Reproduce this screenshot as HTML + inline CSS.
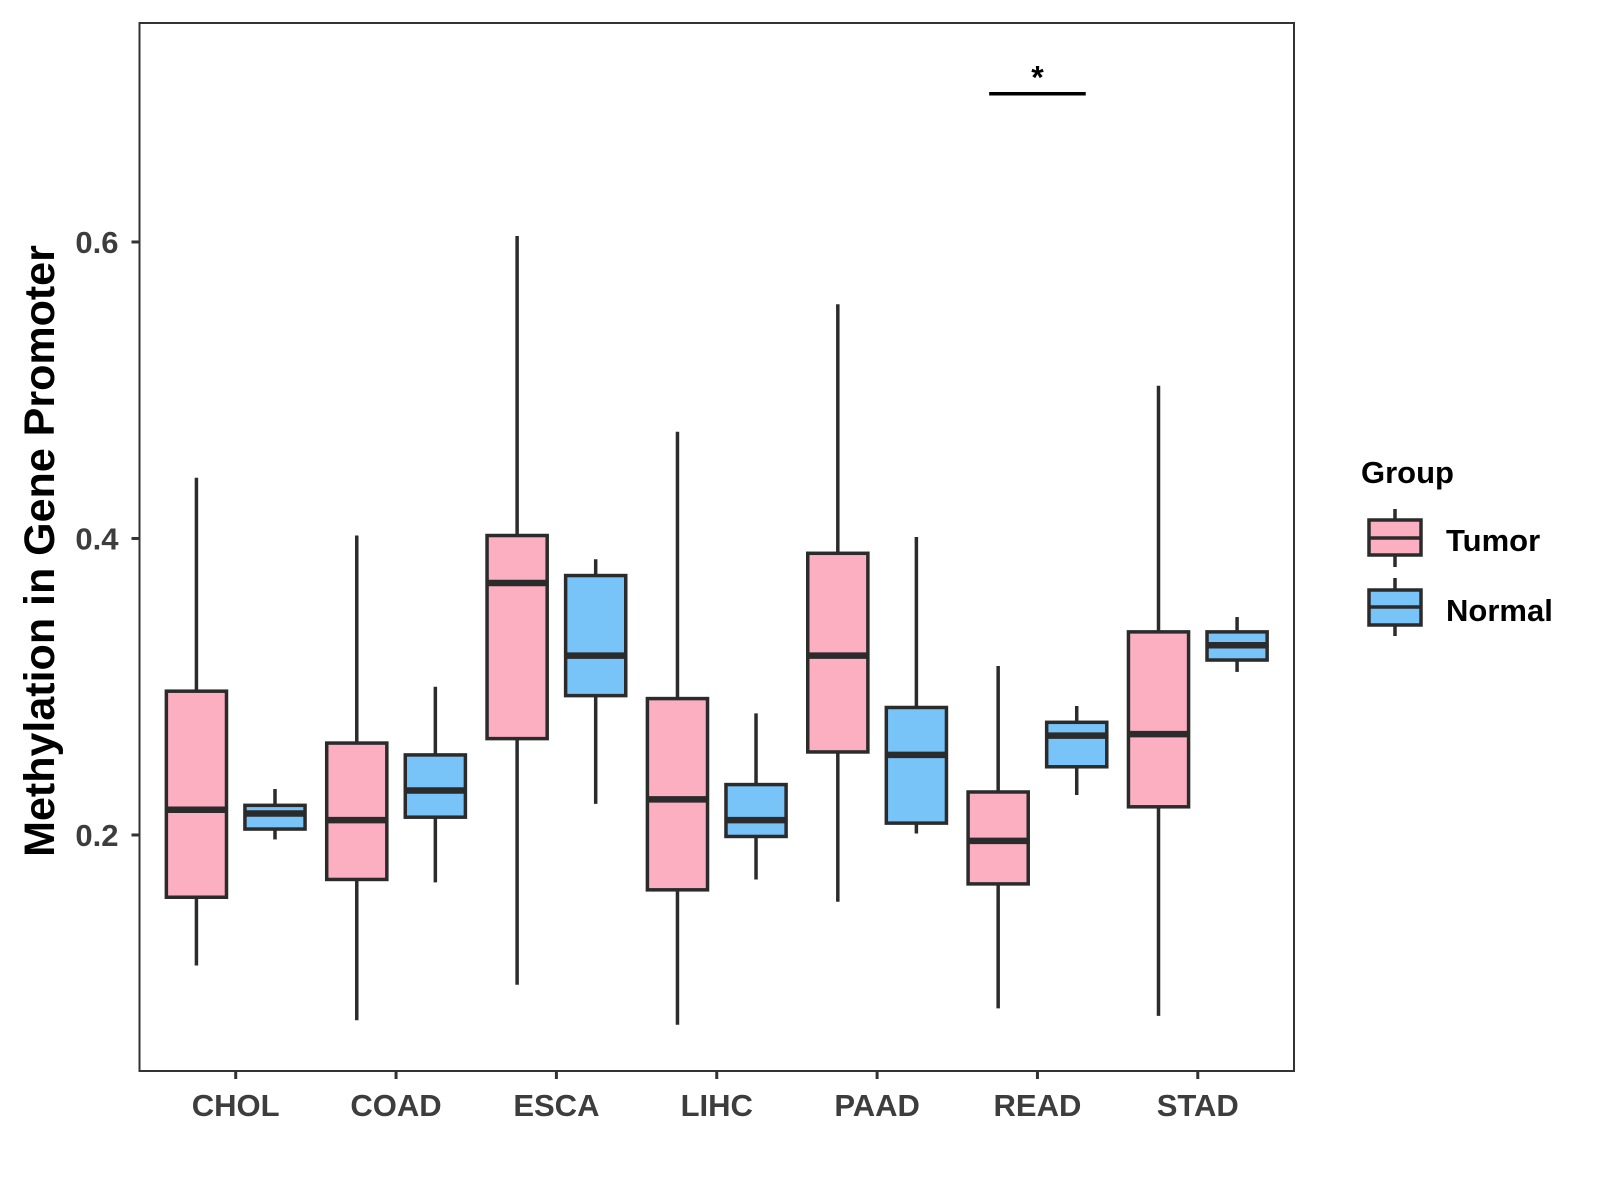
<!DOCTYPE html>
<html><head><meta charset="utf-8"><style>
body{margin:0;background:#fff;}
svg{display:block;font-family:"Liberation Sans",Arial,sans-serif;font-weight:bold;}
</style></head><body>
<svg id="chart" width="1600" height="1200" viewBox="0 0 1600 1200" xmlns="http://www.w3.org/2000/svg">
<rect width="1600" height="1200" fill="#fff"/>
<g id="plot"></g>
<text transform="translate(54,551) rotate(-90)" text-anchor="middle" font-size="43" fill="#000">Methylation in Gene Promoter</text>
<g>
<text x="1361" y="483" font-size="31" fill="#000">Group</text>
<g>
<line x1="1395" y1="509" x2="1395" y2="567" stroke="#2b2b2b" stroke-width="3.5"/>
<rect x="1369" y="520" width="52" height="35" fill="#FBAFC1" stroke="#2b2b2b" stroke-width="3.5"/>
<line x1="1369" y1="538" x2="1421" y2="538" stroke="#2b2b2b" stroke-width="3.5"/>
<text x="1446" y="551" font-size="31" fill="#000">Tumor</text></g>
<g>
<line x1="1395" y1="578" x2="1395" y2="636" stroke="#2b2b2b" stroke-width="3.5"/>
<rect x="1369" y="590" width="52" height="35" fill="#78C3F8" stroke="#2b2b2b" stroke-width="3.5"/>
<line x1="1369" y1="607" x2="1421" y2="607" stroke="#2b2b2b" stroke-width="3.5"/>
<text x="1446" y="621" font-size="31" fill="#000">Normal</text></g>
</g>
</svg>
<script>
const categories=["CHOL","COAD","ESCA","LIHC","PAAD","READ","STAD"];
// [lower whisker, q1, median, q3, upper whisker]
const tumorStats=[[0.112,0.158,0.217,0.297,0.441],[0.075,0.170,0.210,0.262,0.402],[0.099,0.265,0.370,0.402,0.604],[0.072,0.163,0.224,0.292,0.472],[0.155,0.256,0.321,0.390,0.558],[0.083,0.167,0.196,0.229,0.314],[0.078,0.219,0.268,0.337,0.503]];
const normalStats=[[0.197,0.204,0.2145,0.220,0.231],[0.168,0.212,0.230,0.254,0.300],[0.221,0.294,0.321,0.375,0.386],[0.170,0.199,0.210,0.234,0.282],[0.201,0.208,0.254,0.286,0.401],[0.227,0.246,0.267,0.276,0.287],[0.310,0.318,0.328,0.337,0.347]];
const yTicks=[0.2,0.4,0.6];
const sigCategory="READ";
const sigValue=0.70;
const sigLabel="*";

const L=139.5,R=1294,T=23,B=1071;
const yMin=0.0408,yMax=0.7477;
const band=(R-L)/(categories.length+0.2);
function xScale(i){return L+band*(0.6+i);}
function yScale(v){return B-(v-yMin)/(yMax-yMin)*(B-T);}
const NS="http://www.w3.org/2000/svg";
const g=document.getElementById('plot');
function el(tag,attrs,parent){const e=document.createElementNS(NS,tag);for(const k in attrs)e.setAttribute(k,attrs[k]);(parent||g).appendChild(e);return e;}
const stroke="#2b2b2b";
const panel=el('rect',{x:L,y:T,width:R-L,height:B-T,fill:'none',stroke:'#333','stroke-width':2});


yTicks.forEach(t=>{
  const y=yScale(t);
  const tk=el('line',{x1:L-8,x2:L,y1:y,y2:y,stroke:'#333','stroke-width':3});
  
  
  const lb=el('text',{x:L-21,y:y+11,'text-anchor':'end','font-size':31,fill:'#3d3d3d'});
  lb.textContent=t.toFixed(1);
  
  
});
categories.forEach((c,i)=>{
  const x=xScale(i);
  const tk=el('line',{x1:x,x2:x,y1:B,y2:B+8,stroke:'#333','stroke-width':3});
  
  
  const lb=el('text',{x:x,y:B+45,'text-anchor':'middle','font-size':31,fill:'#3d3d3d'});
  lb.textContent=c;
  
  
});
const off=band*0.245,w=band*0.375;
function drawBox(i,s,fill,name){
  const cx=xScale(i)+off*(name==='tumor'?-1:1);
  const grp=el('g',{});
  
  
  el('line',{x1:cx,x2:cx,y1:yScale(s[0]),y2:yScale(s[4]),stroke:stroke,'stroke-width':3.5},grp);
  el('rect',{x:cx-w/2,y:yScale(s[3]),width:w,height:yScale(s[1])-yScale(s[3]),fill:fill,stroke:stroke,'stroke-width':3.5},grp);
  el('line',{x1:cx-w/2,x2:cx+w/2,y1:yScale(s[2]),y2:yScale(s[2]),stroke:stroke,'stroke-width':6.5},grp);
}
categories.forEach((c,i)=>{drawBox(i,tumorStats[i],'#FBAFC1','tumor');drawBox(i,normalStats[i],'#78C3F8','normal');});
const si=categories.indexOf(sigCategory);
const sl=el('line',{x1:xScale(si)-off-9,x2:xScale(si)+off+9,y1:yScale(sigValue),y2:yScale(sigValue),stroke:'#000','stroke-width':3.5});


const st=el('text',{x:xScale(si),y:yScale(sigValue)-5,'text-anchor':'middle','font-size':32,fill:'#000'});
st.textContent=sigLabel;


</script>
</body></html>
